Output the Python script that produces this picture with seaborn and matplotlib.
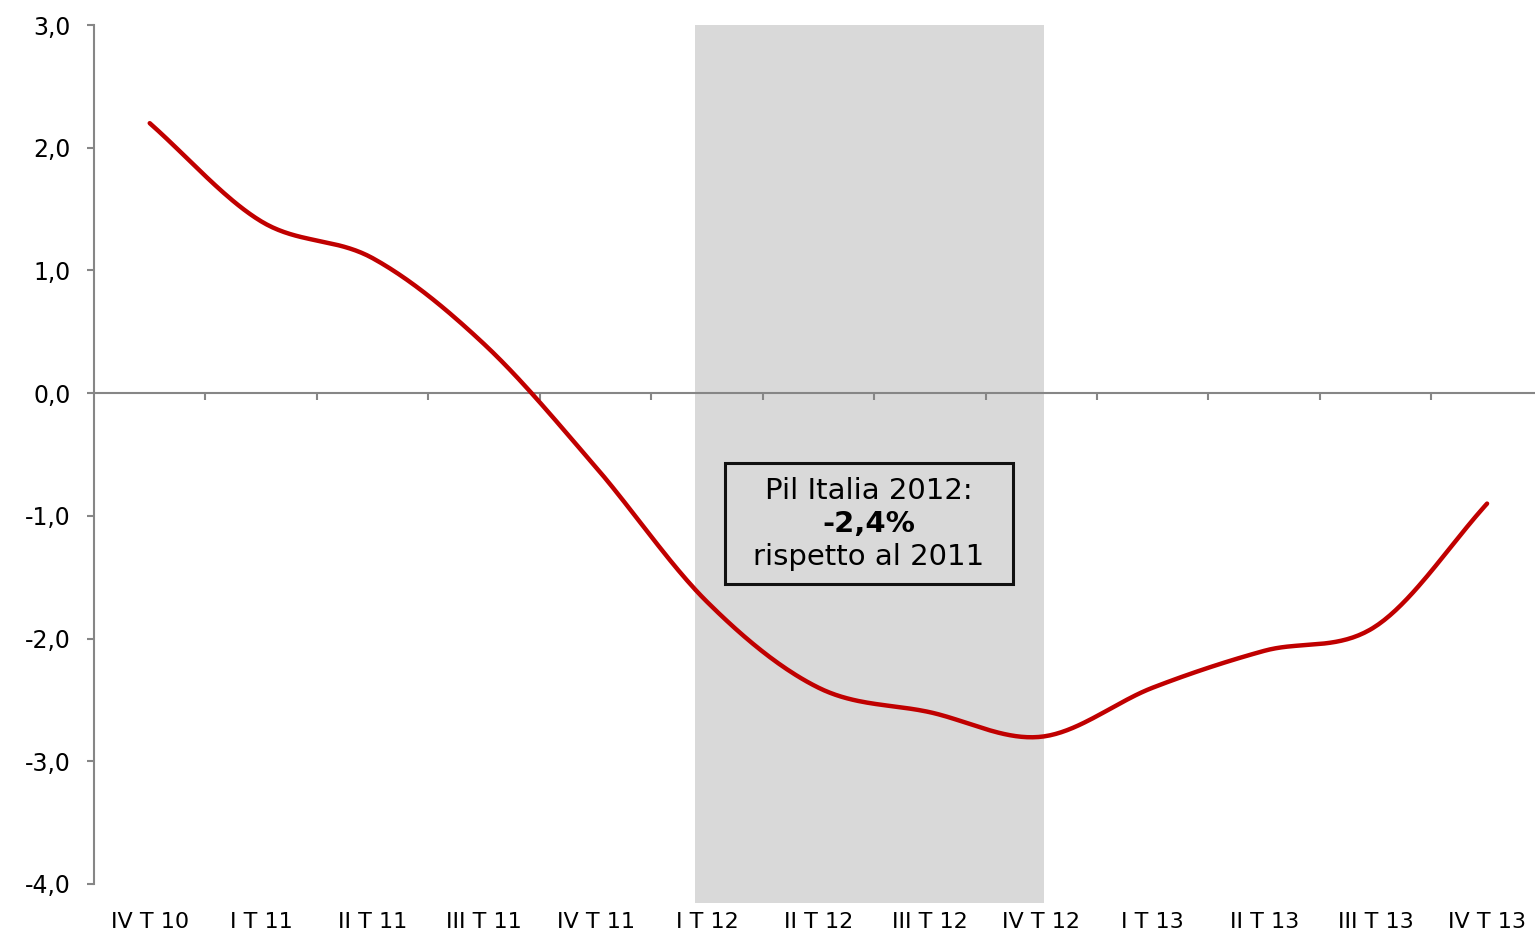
import numpy as np
import matplotlib
matplotlib.use("Agg")
import matplotlib.pyplot as plt
import seaborn as sns
from matplotlib.patches import Rectangle

# ---- data ----
quarters = ["IV T 10", "I T 11", "II T 11", "III T 11", "IV T 11", "I T 12",
            "II T 12", "III T 12", "IV T 12", "I T 13", "II T 13", "III T 13", "IV T 13"]
pil_var = [2.2, 1.4, 1.1, 0.4, -0.6, -1.7, -2.4, -2.6, -2.8, -2.4, -2.1, -1.9, -0.9]
y_ticks = [3, 2, 1, 0, -1, -2, -3, -4]
band_from = "I T 12"
band_to = "IV T 12"
note_lines = ["Pil Italia 2012:", "-2,4%", "rispetto al 2011"]

# ---- style ----
sns.set_style("white")
plt.rcParams["font.family"] = ["DejaVu Sans"]
GRAY = "#868686"
RED = "#C00000"
BAND = "#D9D9D9"

fig = plt.figure(figsize=(15.35, 9.33), dpi=100)
ax = fig.add_axes([94 / 1535, 1 - 884 / 933, 1 - 94 / 1535, (884 - 25) / 933])

# smoothed line (Excel-like cubic Bezier through the points)
y = np.array(pil_var, dtype=float)
n = len(y)
idx = np.arange(n, dtype=float)
xs_s, ys_s = [], []
t = np.linspace(0, 1, 40)
for i in range(n - 1):
    p0 = y[i - 1] if i > 0 else 2 * y[i] - y[i + 1]
    p3 = y[i + 2] if i + 2 < n else 2 * y[i + 1] - y[i]
    p1, p2 = y[i], y[i + 1]
    c1 = p1 + (p2 - p0) / 6.0
    c2 = p2 - (p3 - p1) / 6.0
    seg = (1 - t) ** 3 * p1 + 3 * (1 - t) ** 2 * t * c1 + 3 * (1 - t) * t ** 2 * c2 + t ** 3 * p2
    xs_s.extend(list(idx[i] + t))
    ys_s.extend(list(seg))

# shaded 2012 band
i0 = quarters.index(band_from)
i1 = quarters.index(band_to)
ax.axvspan(i0 - 0.11, i1 + 0.02, ymin=-0.022, ymax=1, color=BAND, lw=0,
           zorder=0, clip_on=False)

sns.lineplot(x=xs_s, y=ys_s, color=RED, linewidth=3.2, ax=ax, zorder=3,
             solid_capstyle="round", sort=False)

ax.set_xlim(-0.5, 12.43)
ax.set_ylim(min(y_ticks), max(y_ticks))

# axes styling
for s in ["top", "right"]:
    ax.spines[s].set_visible(False)
ax.spines["bottom"].set_position(("data", 0))
for s in ["left", "bottom"]:
    ax.spines[s].set_color(GRAY)
    ax.spines[s].set_linewidth(1.5)
    ax.spines[s].set_zorder(2)

ax.set_xticks(np.arange(0.5, n - 1, 1.0))
ax.set_xticklabels([])
ax.tick_params(axis="x", bottom=True, direction="out", length=5, width=1.5,
               color=GRAY)
ax.set_yticks(y_ticks)
ax.set_yticklabels([f"{v:.1f}".replace(".", ",") for v in y_ticks], fontsize=17)
ax.tick_params(axis="y", left=True, direction="out", length=5, width=1.5,
               color=GRAY, pad=12, labelcolor="black")
ax.set_xlabel("")
ax.set_ylabel("")

# category labels at the bottom
for i, q in enumerate(quarters):
    ax.text(i, -0.044, q, transform=ax.get_xaxis_transform(), ha="center",
            va="center", fontsize=16, color="black", clip_on=False)

# annotation box
bx0, bx1 = 5.16, 7.745
by0, by1 = -1.557, -0.570
ax.add_patch(Rectangle((bx0, by0), bx1 - bx0, by1 - by0, facecolor=BAND,
                       edgecolor="#111111", linewidth=2.2, zorder=4))
cx = (bx0 + bx1) / 2
ax.text(cx, -0.80, note_lines[0], ha="center", va="center", fontsize=21,
        color="black", zorder=5)
ax.text(cx, -1.068, note_lines[1], ha="center", va="center", fontsize=21,
        fontweight="bold", color="black", zorder=5)
ax.text(cx, -1.336, note_lines[2], ha="center", va="center", fontsize=21,
        color="black", zorder=5)

fig.savefig("out.png", dpi=100, facecolor="white")
